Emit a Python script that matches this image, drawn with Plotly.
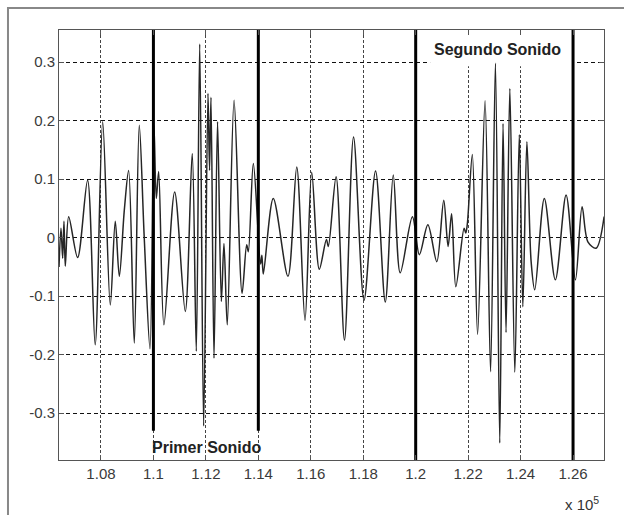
import plotly.graph_objects as go

# ---- data ----
sig_x = [106400, 106475, 106540, 106590, 106640, 106770, 107110, 107490, 107780, 108065,
         108355, 108545, 108700, 108890, 109055, 109270, 109460, 109650, 109870, 110020,
         110110, 110200, 110400, 110810, 111215, 111480, 111635, 111765, 111915, 112080,
         112140, 112195, 112310, 112445, 112590, 112690, 112815, 113075, 113380, 113555,
         113620, 113810, 114085, 114135, 114190, 114570, 115130, 115465, 115780, 116035,
         116325, 116595, 116670, 116965, 117285, 117630, 118030, 118470, 118840, 119145,
         119410, 119875, 120140, 120465, 120805, 121070, 121235, 121370, 121530, 121845,
         121910, 121970, 122160, 122360, 122645, 122855, 123040, 123205, 123330, 123445,
         123590, 123780, 123950, 124085, 124240, 124400, 124540, 124905, 125325, 125735,
         126090, 126345, 126565, 126880, 127185]
sig_y = [-0.05, 0.016, -0.035, 0.028, -0.049, 0.036, -0.034, 0.098, -0.183, 0.198,
         -0.115, 0.028, -0.066, 0.047, 0.115, -0.18, 0.192, 0.0, -0.19, 0.192,
         0.067, 0.113, -0.149, 0.078, -0.126, 0.144, -0.194, 0.331, -0.322, 0.247,
         0.115, 0.24, -0.206, 0.198, -0.109, -0.01, -0.149, 0.235, -0.095, -0.012,
         -0.024, 0.127, -0.045, -0.03, -0.062, 0.067, -0.066, 0.121, -0.141, 0.112,
         -0.054, -0.003, -0.015, 0.104, -0.175, 0.172, -0.107, 0.114, -0.11, 0.107,
         -0.06, 0.036, -0.029, 0.022, -0.041, 0.064, -0.015, 0.041, -0.084, 0.016,
         0.008, 0.024, 0.142, -0.165, 0.234, -0.229, 0.298, -0.351, 0.195, -0.162,
         0.255, -0.23, 0.176, -0.118, 0.164, -0.04, -0.089, 0.067, -0.072, 0.073,
         -0.072, 0.053, -0.007, -0.018, 0.036]

marker_x = [110000, 114000, 120000, 126000]
marker_ymin = [-0.33, -0.33, -0.40, -0.40]
marker_ymax = [0.36, 0.36, 0.36, 0.36]

label_text = ["Primer Sonido", "Segundo Sonido"]
label_x = [112060, 123120]
label_y = [-0.358, 0.322]

x_tickvals = [108000, 110000, 112000, 114000, 116000, 118000, 120000, 122000, 124000, 126000]
x_ticktext = ["1.08", "1.1", "1.12", "1.14", "1.16", "1.18", "1.2", "1.22", "1.24", "1.26"]
y_tickvals = [-0.3, -0.2, -0.1, 0, 0.1, 0.2, 0.3]
y_ticktext = ["-0.3", "-0.2", "-0.1", "0", "0.1", "0.2", "0.3"]

x_range = [106400, 127180]
y_range = [-0.38, 0.355]

# ---- figure ----
fig = go.Figure()

fig.add_trace(go.Scatter(
    x=sig_x, y=sig_y, mode="lines",
    line=dict(color="#262626", width=1.5, shape="spline", smoothing=0.9),
    showlegend=False, hoverinfo="skip"))

mx, my = [], []
for xv, y0, y1 in zip(marker_x, marker_ymin, marker_ymax):
    mx += [xv, xv, None]
    my += [y0, y1, None]
fig.add_trace(go.Scatter(
    x=mx, y=my, mode="lines", line=dict(color="black", width=3),
    showlegend=False, hoverinfo="skip"))

# white box behind "Segundo Sonido" (between gridlines and traces)
fig.add_shape(type="rect", xref="x", yref="y", x0=120550, x1=126000, y0=0.293, y1=0.36,
              fillcolor="white", line=dict(width=0), layer="between")

for t, xv, yv in zip(label_text, label_x, label_y):
    fig.add_annotation(x=xv, y=yv, xref="x", yref="y", text="<b>" + t + "</b>",
                       showarrow=False,
                       font=dict(family="Liberation Sans, Arial", size=16, color="#222"))

fig.add_annotation(x=1, y=0, xref="paper", yref="paper", xanchor="right", yanchor="middle",
                   yshift=-43, xshift=-3, text="x 10<sup>5</sup>", showarrow=False,
                   font=dict(family="Liberation Sans, Arial", size=15, color="#333"))

# outer frame of the picture
fig.add_shape(type="rect", xref="paper", yref="paper", x0=-0.0936, x1=1.3, y0=-0.3, y1=1.051,
              line=dict(color="#888888", width=2), fillcolor="rgba(0,0,0,0)", layer="below")

axis_font = dict(family="Liberation Sans, Arial", size=15, color="#3a3a3a")
fig.update_xaxes(range=x_range, tickvals=x_tickvals, ticktext=x_ticktext,
                 showgrid=True, gridcolor="#444", griddash="3px,2px", gridwidth=1,
                 zeroline=False, showline=True, linecolor="#555", linewidth=1, mirror="allticks",
                 ticks="inside", ticklen=5, tickcolor="#555", tickfont=axis_font)
fig.update_yaxes(range=y_range, tickvals=y_tickvals, ticktext=y_ticktext,
                 showgrid=True, gridcolor="#111", griddash="4px,3px", gridwidth=1,
                 zeroline=False, showline=True, linecolor="#555", linewidth=1, mirror="allticks",
                 ticks="inside", ticklen=5, tickcolor="#555", tickfont=axis_font)

fig.update_layout(width=624, height=515, margin=dict(l=59, r=20, t=30, b=55),
                  paper_bgcolor="white", plot_bgcolor="white", showlegend=False)

fig.write_html("out.html")
